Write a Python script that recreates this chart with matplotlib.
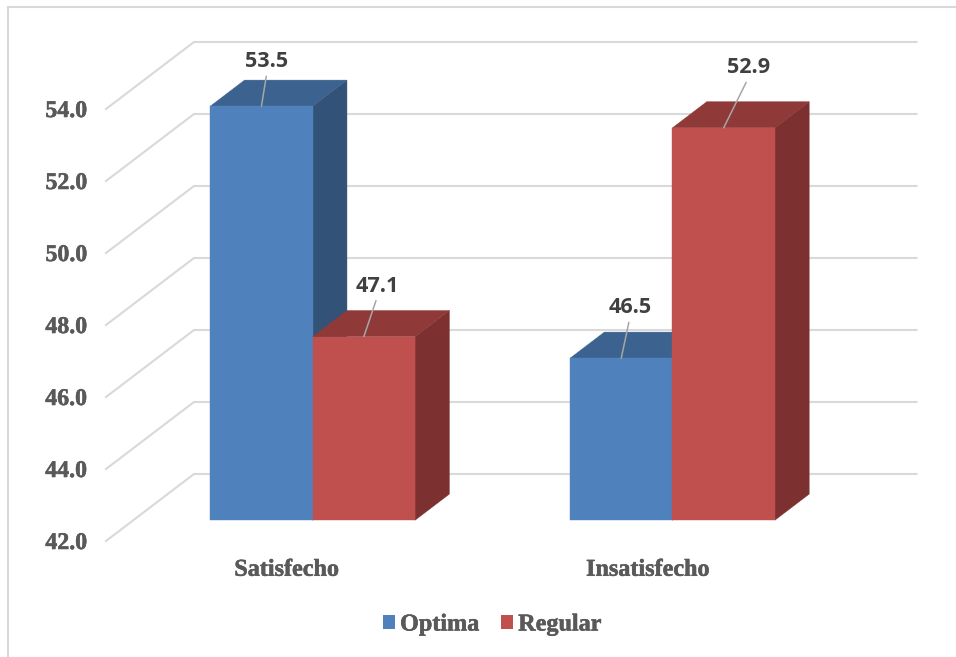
import matplotlib
matplotlib.use("Agg")
import matplotlib.pyplot as plt
import matplotlib.patheffects as pe
from matplotlib.lines import Line2D
from matplotlib.patches import Patch, Polygon

plt.rcParams['font.family'] = 'Liberation Serif'
plt.rcParams['font.weight'] = 'bold'

categories = ['Satisfecho', 'Insatisfecho']
series_names = ['Optima', 'Regular']
optima = [53.5, 46.5]
regular = [47.1, 52.9]
y_ticks = [42, 44, 46, 48, 50, 52, 54]

# face colours: front, top, side
blue = ('#4F81BD', '#3C6290', '#325278')
red = ('#C0504D', '#8F3A38', '#7C3130')
grid_color = '#D9D9D9'
text_color = '#595959'

W, H = 956, 657
fig = plt.figure(figsize=(W / 100, H / 100), dpi=100, facecolor='white')

# front plane of the box: x 106-828.5 px, y 541-109 px
ax = fig.add_axes([106 / W, 1 - 541 / H, 722.5 / W, 432 / H])
ax.set_xlim(0, 2)
ax.set_ylim(42, 54)
ax.patch.set_visible(False)
for s in ax.spines.values():
    s.set_visible(False)

# oblique depth: how far one full depth unit moves in data units
DEPTH_X = 88 / 361.25
DEPTH_Y = 67 / 36
BAR_W = 0.2835
BAR_D0 = 0.31
BAR_D1 = 0.70


def shift(x, v, d):
    return x + d * DEPTH_X, v + d * DEPTH_Y


# side wall and back wall gridlines
for v in y_ticks:
    xs = [0, shift(0, v, 1)[0], shift(2, v, 1)[0]]
    ys = [v, shift(0, v, 1)[1], shift(2, v, 1)[1]]
    ax.plot(xs, ys, color=grid_color, lw=1.5, clip_on=False, zorder=1,
            solid_joinstyle='miter')


def box(x0, value, colors):
    x1 = x0 + BAR_W
    base = 42
    front = [shift(x0, base, BAR_D0), shift(x1, base, BAR_D0),
             shift(x1, value, BAR_D0), shift(x0, value, BAR_D0)]
    top = [shift(x0, value, BAR_D0), shift(x1, value, BAR_D0),
           shift(x1, value, BAR_D1), shift(x0, value, BAR_D1)]
    side = [shift(x1, base, BAR_D0), shift(x1, base, BAR_D1),
            shift(x1, value, BAR_D1), shift(x1, value, BAR_D0)]
    for pts, c in zip((side, top, front), (colors[2], colors[1], colors[0])):
        ax.add_patch(Polygon(pts, closed=True, facecolor=c, edgecolor=c,
                             lw=0.3, clip_on=False, zorder=3))


tick_centers = [0.5, 1.5]
# the bar groups sit slightly left of the category centre
bar_centers = [0.4965, 1.4925]
label_offsets = [[(5.5, 44.5), (13.5, 50.5)], [(8.5, 50.5), (24.5, 60)]]

for i, c in enumerate(bar_centers):
    box(c - BAR_W, optima[i], blue)
    box(c, regular[i], red)

# value labels with leader lines
for i, c in enumerate(bar_centers):
    bars = [(c - BAR_W / 2, optima[i]), (c + BAR_W / 2, regular[i])]
    for j, (xc, v) in enumerate(bars):
        dx, dy = label_offsets[i][j]
        ax.annotate(f'{v:.1f}', xy=shift(xc, v, BAR_D0),
                    xytext=(dx * 0.72, dy * 0.72), textcoords='offset points',
                    ha='center', va='center', fontsize=15.6,
                    family='Open Sans', fontweight='bold', color='#404040',
                    annotation_clip=False, zorder=5,
                    arrowprops=dict(arrowstyle='-', color='#A6A6A6', lw=1.1,
                                    relpos=(0.5, 0), shrinkA=1, shrinkB=0))

ax.set_yticks(y_ticks)
ax.set_yticklabels([f'{v:.1f}' for v in y_ticks])
ax.set_xticks(tick_centers)
ax.set_xticklabels(categories)
ax.tick_params(axis='y', length=0, pad=13.7, labelsize=17.2, labelcolor=text_color)
ax.tick_params(axis='x', length=0, pad=13.5, labelsize=17.4, labelcolor=text_color)

handles = [Patch(facecolor=blue[0], edgecolor=blue[0], lw=0),
           Patch(facecolor=red[0], edgecolor=red[0], lw=0)]
leg = fig.legend(handles, series_names, loc='center',
                 bbox_to_anchor=(492 / W, 1 - 625 / H), ncol=2, frameon=False,
                 fontsize=17.4, labelcolor=text_color, handlelength=0.5,
                 handleheight=0.5, handletextpad=0.22, columnspacing=0.9,
                 borderpad=0, borderaxespad=0)

# a thin stroke thickens the serif labels a little
heavy = [pe.withStroke(linewidth=0.4, foreground=text_color)]
for t in ax.get_xticklabels() + ax.get_yticklabels() + leg.get_texts():
    t.set_path_effects(heavy)

# outer chart border, open on the right and bottom
fig.add_artist(Line2D([7.5 / W, 7.5 / W, 1], [0, 1 - 6.5 / H, 1 - 6.5 / H],
                      color=grid_color, lw=1.5, solid_joinstyle='miter'))

fig.savefig('out.png', dpi=100)
